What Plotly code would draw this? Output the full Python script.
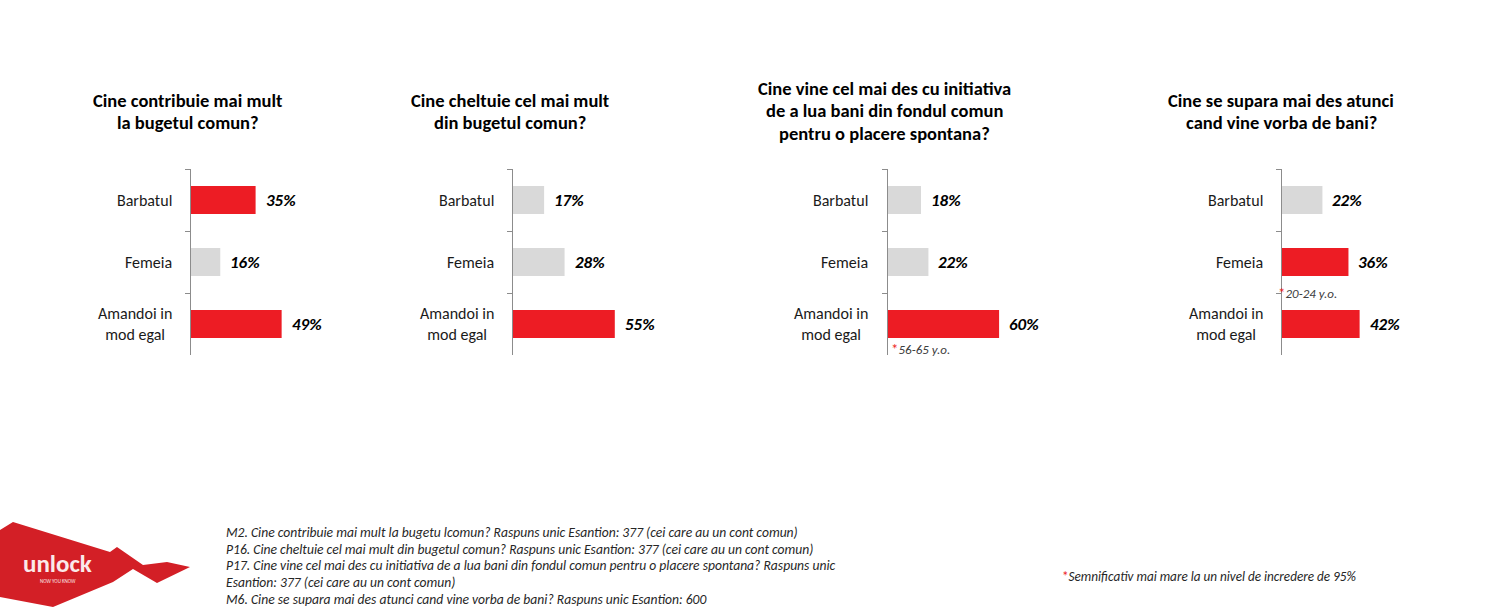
import plotly.graph_objects as go

W, H = 1494, 608
FONT = "Carlito, Lato, sans-serif"
RED = "#ED1C24"
GRAY = "#D9D9D9"

categories = ["Barbatul", "Femeia", "Amandoi in<br>mod egal"]

titles = [
    ["Cine contribuie mai mult", "la bugetul comun?"],
    ["Cine cheltuie cel mai mult", "din bugetul comun?"],
    ["Cine vine cel mai des cu initiativa", "de a lua bani din fondul comun", "pentru o placere spontana?"],
    ["Cine se supara mai des atunci", "cand vine vorba de bani?"],
]

values_m2 = [35, 16, 49]
values_p16 = [17, 28, 55]
values_p17 = [18, 22, 60]
values_m6 = [22, 36, 42]
panel_values = [values_m2, values_p16, values_p17, values_m6]

highlight_m2 = [True, False, True]
highlight_p16 = [False, False, True]
highlight_p17 = [False, False, True]
highlight_m6 = [False, True, True]
panel_highlight = [highlight_m2, highlight_p16, highlight_p17, highlight_m6]

# significance notes: (panel index, category position, text)
sig_notes = [(2, 2.4, "56-65 y.o."), (3, 1.5, "20-24 y.o.")]
sig_shift = [2, -6]

footer_lines = [
    "M2. Cine contribuie mai mult la bugetu lcomun? Raspuns unic Esantion: 377 (cei care au un cont comun)",
    "P16. Cine cheltuie cel mai mult din bugetul comun? Raspuns unic Esantion: 377 (cei care au un cont comun)",
    "P17. Cine vine cel mai des cu initiativa de a lua bani din fondul comun pentru o placere spontana? Raspuns unic",
    "Esantion: 377 (cei care au un cont comun)",
    "M6. Cine se supara mai des atunci cand vine vorba de bani? Raspuns unic Esantion: 600",
]
sig_legend = "Semnificativ mai mare la un nivel de incredere de 95%"

# ---- layout geometry (pixels in the screenshot) ----
axis_x0 = [190.5, 512.5, 887.5, 1281.5]
axis_w = 186.0
plot_top, plot_bot = 169.0, 355.0
title_cx = [188, 510, 884.5, 1281]
title_y = [[100, 123], [100, 123], [88, 110.5, 133], [100, 123]]


def px(x):
    return x / W


def py(y):
    return 1 - y / H


fig = go.Figure()
layout = dict(
    width=W, height=H, margin=dict(l=0, r=0, t=0, b=0),
    paper_bgcolor="white", plot_bgcolor="white", showlegend=False,
    font=dict(family=FONT, color="#000000"),
)
annotations = []

for i in range(4):
    sfx = "" if i == 0 else str(i + 1)
    xa, ya = "x" + sfx, "y" + sfx
    vals = panel_values[i]
    colors = [RED if h else GRAY for h in panel_highlight[i]]
    fig.add_trace(go.Bar(
        x=vals, y=categories, orientation="h", xaxis=xa, yaxis=ya,
        marker=dict(color=colors, line=dict(width=0)), width=0.45,
        hoverinfo="skip",
    ))
    layout["xaxis" + sfx] = dict(
        domain=[px(axis_x0[i]), px(axis_x0[i] + axis_w)], range=[0, 100],
        visible=False, anchor=ya, fixedrange=True,
    )
    layout["yaxis" + sfx] = dict(
        domain=[py(plot_bot), py(plot_top)], type="category",
        categoryorder="array", categoryarray=categories,
        range=[2.5, -0.5], anchor=xa,
        showline=True, linecolor="#8C8C8C", linewidth=1,
        ticks="outside", tickson="boundaries", ticklen=5, tickcolor="#8C8C8C",
        showticklabels=False, showgrid=False, zeroline=False, fixedrange=True,
    )
    # category labels
    for c in categories:
        annotations.append(dict(
            x=0, y=c, xref=xa + " domain", yref=ya, text=c, showarrow=False,
            xanchor="right", yanchor="middle", xshift=-17, align="center",
            font=dict(size=16, color="#1a1a1a", family=FONT),
        ))
    # value labels
    for c, v in zip(categories, vals):
        annotations.append(dict(
            x=v, y=c, xref=xa, yref=ya, text=f"<b><i>{v}%</i></b>",
            showarrow=False, xanchor="left", yanchor="middle", xshift=8,
            font=dict(size=17, color="#000000", family=FONT),
        ))
    # titles
    for line, yy in zip(titles[i], title_y[i]):
        annotations.append(dict(
            x=px(title_cx[i]), y=py(yy), xref="paper", yref="paper",
            text=f"<b>{line}</b>", showarrow=False, xanchor="center",
            yanchor="middle", font=dict(size=18.5, color="#000000", family=FONT),
        ))

for (pi, pos, txt), sh in zip(sig_notes, sig_shift):
    sfx = "" if pi == 0 else str(pi + 1)
    annotations.append(dict(
        x=0, y=pos, xref="x" + sfx + " domain", yref="y" + sfx,
        text=f"<span style='color:{RED};font-size:15px'>*</span><i>{txt}</i>",
        showarrow=False, xanchor="left", yanchor="middle", xshift=sh,
        font=dict(size=13, color="#404040", family=FONT),
    ))

footer_y = [532, 549, 565.5, 582, 599]
for line, yy in zip(footer_lines, footer_y):
    annotations.append(dict(
        x=px(224), y=py(yy), xref="paper", yref="paper", text=f"<i>{line}</i>",
        showarrow=False, xanchor="left", yanchor="middle",
        font=dict(size=13.6, color="#262626", family=FONT),
    ))

annotations.append(dict(
    x=px(1060), y=py(576), xref="paper", yref="paper",
    text=f"<span style='color:{RED}'>*</span><i>{sig_legend}</i>",
    showarrow=False, xanchor="left", yanchor="middle",
    font=dict(size=13.2, color="#262626", family=FONT),
))

# logo (decorative)
logo_pts = [(0, 530), (13, 522), (110, 552), (117, 547), (143, 565), (167, 562),
            (190, 567), (157, 583), (133, 569), (113, 582), (53, 607), (0, 597)]
path = "M " + " L ".join(f"{px(x):.5f},{py(y):.5f}" for x, y in logo_pts) + " Z"
layout["shapes"] = [dict(type="path", path=path, xref="paper", yref="paper",
                         fillcolor="#D31F26", line=dict(width=0), layer="below")]
annotations.append(dict(x=px(57), y=py(563), xref="paper", yref="paper",
                        text="<b>unlock</b>", showarrow=False, xanchor="center",
                        yanchor="middle", font=dict(size=25, color="#FBE9EA", family=FONT)))
annotations.append(dict(x=px(58), y=py(581), xref="paper", yref="paper",
                        text="NOW YOU KNOW", showarrow=False, xanchor="center",
                        yanchor="middle", font=dict(size=5, color="#FBE9EA", family=FONT)))

layout["annotations"] = annotations
fig.update_layout(**layout)
fig.write_html(
    "out.html",
    config={"displayModeBar": False},
    post_script="document.body.style.margin='0';document.body.style.overflow='hidden';",
)
